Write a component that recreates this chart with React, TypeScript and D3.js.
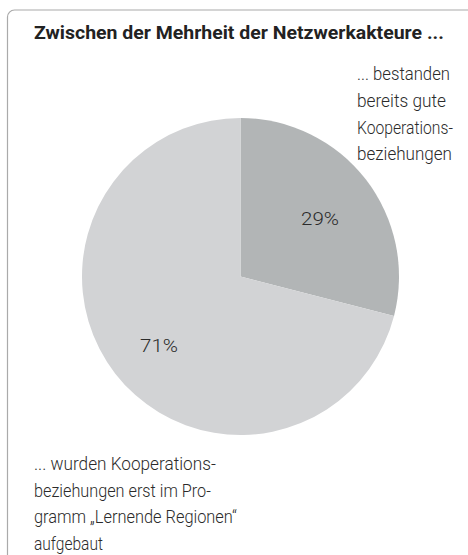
import React, { useLayoutEffect, useRef, useState } from "react";
import * as d3 from "d3";

const categories = ["bestanden", "wurden"];
const values = [29, 71];
const percentLabels = ["29%", "71%"];
const colors = ["#b2b5b6", "#d2d3d5"];
const titleText = "Zwischen der Mehrheit der Netzwerkakteure ...";
const labelTopRight = ["... bestanden", "bereits gute", "Kooperations-", "beziehungen"];
const labelBottomLeft = [
  "... wurden Kooperations-",
  "beziehungen erst im Pro-",
  "gramm \u201ELernende Regionen\u201C",
  "aufgebaut",
];

function FitText(props: {
  x: number;
  y: number;
  width: number;
  fontSize: number;
  fontWeight: number;
  fill: string;
  children: string;
}) {
  const ref = useRef<SVGTextElement>(null);
  const [sx, setSx] = useState(1);
  useLayoutEffect(() => {
    if (ref.current) {
      const w = ref.current.getComputedTextLength();
      if (w > 0) setSx(props.width / w);
    }
  }, [props.width, props.children]);
  return (
    <text
      ref={ref}
      transform={`translate(${props.x},${props.y}) scale(${sx},1)`}
      fontSize={props.fontSize}
      fontWeight={props.fontWeight}
      fill={props.fill}
    >
      {props.children}
    </text>
  );
}

export default function App() {
  const W = 468;
  const H = 555;
  const cx = 240.5;
  const cy = 276.5;
  const r = 158.5;
  const pie = d3.pie<number>().sort(null).value((d) => d);
  const arcs = pie(values);
  const arcGen = d3.arc<d3.PieArcDatum<number>>().innerRadius(0).outerRadius(r);
  const font = "Roboto, 'Open Sans', sans-serif";
  const textColor = "#2b2b2b";
  const fs = 19;
  const topWidths = [93, 89, 96, 95];
  const bottomWidths = [182, 177, 203, 69];
  const pctPos = [
    [320, 225],
    [159, 352],
  ];
  return (
    <svg
      width={W}
      height={H}
      style={{ position: "absolute", left: 0, top: 0, background: "#fff" }}
      fontFamily={font}
    >
      <rect x={7.5} y={10} width={W + 20} height={H + 20} rx={7} fill="#fff" stroke="#aaaaaa" strokeWidth={1.2} />
      <FitText x={34} y={39} width={410} fontSize={18.5} fontWeight={700} fill="#222">
        {titleText}
      </FitText>
      <g transform={`translate(${cx},${cy})`}>
        {arcs.map((a, i) => (
          <path key={categories[i]} d={arcGen(a) || ""} fill={colors[i]} />
        ))}
      </g>
      {percentLabels.map((t, i) => (
        <FitText key={t} x={pctPos[i][0] - 19} y={pctPos[i][1]} width={38} fontSize={fs} fontWeight={300} fill={textColor}>
          {t}
        </FitText>
      ))}
      {labelTopRight.map((t, i) => (
        <FitText key={t} x={357} y={80 + i * 26.8} width={topWidths[i]} fontSize={fs} fontWeight={300} fill={textColor}>
          {t}
        </FitText>
      ))}
      {labelBottomLeft.map((t, i) => (
        <FitText key={t} x={34} y={470 + i * 26.5} width={bottomWidths[i]} fontSize={fs} fontWeight={300} fill={textColor}>
          {t}
        </FitText>
      ))}
    </svg>
  );
}
